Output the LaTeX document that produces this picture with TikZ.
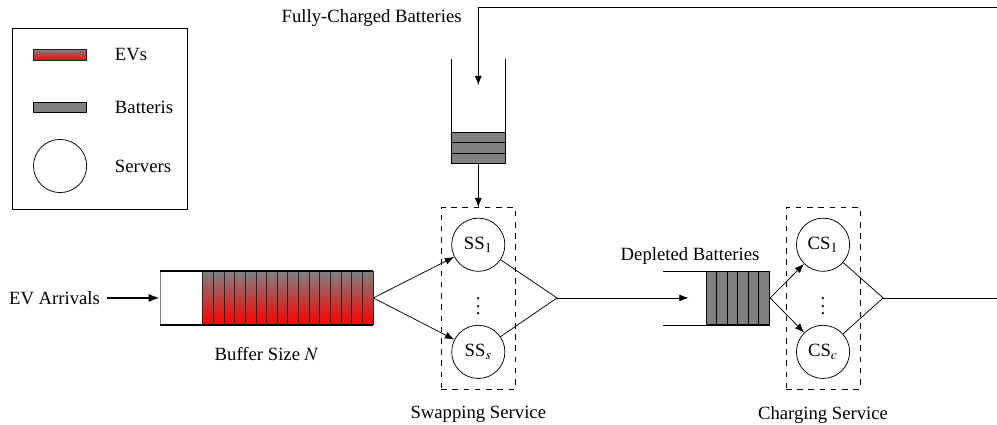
\documentclass[tikz,border=0pt]{standalone}
\usepackage{mathptmx}
\usepackage{fontspec}
\setmainfont{Liberation Serif}
\usetikzlibrary{arrows.meta, positioning, fit}

\begin{document}
\begin{tikzpicture}[
    server/.style={draw, circle, minimum size=1cm, inner sep=0pt},
    dashbox/.style={draw, dashed, inner sep=0.19cm},
    evcell/.style={draw=black!85, top color=gray, bottom color=red},
    batcell/.style={draw, fill=gray, inner sep=0pt},
    vdotsnode/.style={inner sep=0pt},
    arr/.style={-{Latex[length=5pt]}},
    evarr/.style={-{Latex[length=6pt]}, line width=1.2pt}
  ]
  \useasboundingbox (0,0) rectangle (18.74,-7.97);

  \node[draw, minimum width=3.29cm, minimum height=3.4cm, anchor=north west] (legend) at (0.23,-0.53) {};
  \node[evcell, minimum width=1cm, minimum height=0.2cm, inner sep=0pt] (legev) at (1.13,-1.03) {};
  \node[batcell, minimum width=1cm, minimum height=0.2cm] (legbat) at (1.13,-2.02) {};
  \node[server] (legsrv) at (1.13,-3.12) {};
  \node[right=0.4cm of legev] (legevtxt) {EVs};
  \node[right=0.4cm of legbat] (legbattxt) {Batteris};
  \node[right=0.4cm of legsrv] (legsrvtxt) {Servers};

  \node[draw=gray, minimum width=4cm, minimum height=1cm, inner sep=0pt] (buf) at (5.01,-5.6) {};
  \foreach \i in {0,...,15}
    \draw[evcell] (3.81+0.2*\i,-5.1) rectangle ++(0.2,-1);
  \draw[thick] (buf.north west) -- (buf.north east);
  \draw[thick] (buf.south west) -- (buf.south east);
  \coordinate[left=1cm of buf.west] (evtail);
  \draw[evarr] (evtail) -- (buf.west);
  \node[left=0pt of evtail] (evtxt) {EV Arrivals};
  \node[below=0.3cm of buf] (buftxt) {Buffer Size $N$};

  \node[server] (ss1) at (8.99,-4.6) {SS$_1$};
  \node[server, below=1cm of ss1] (sss) {SS$_s$};
  \node[vdotsnode] (ssdots) at (8.99,-5.65) {$\vdots$};
  \node[dashbox, fit=(ss1)(sss)] (swap) {};
  \node[below=0.2cm of swap] (swaptxt) {Swapping Service};
  \draw[arr] (buf.east) -- (ss1);
  \draw[arr] (buf.east) -- (sss);
  \coordinate (ssjoin) at (10.47,-5.6);
  \draw (ss1) -- (ssjoin) -- (sss);

  \node[batcell, minimum width=1cm, minimum height=0.6cm, above=0.81cm of swap] (fullq) {};
  \foreach \k in {-0.1,0.1}
    \draw ([yshift=\k cm]fullq.west) -- ([yshift=\k cm]fullq.east);
  \draw (fullq.north west) -- ++(0,1.37);
  \draw (fullq.north east) -- ++(0,1.37);
  \draw[arr] (fullq) -- (swap);
  \coordinate (fbtop) at (8.99,-0.13);
  \coordinate (fbend) at (18.74,-0.13);
  \coordinate (fbtip) at (8.99,-1.6);
  \draw[arr] (fbend) -- (fbtop) -- (fbtip);
  \node[anchor=east] (fbtxt) at (8.8,-0.34) {Fully-Charged Batteries};

  \node[batcell, minimum width=1.2cm, minimum height=1cm] (depq) at (13.87,-5.6) {};
  \foreach \i in {1,...,5}
    \draw ([xshift={0.2*\i cm}]depq.north west) -- ([xshift={0.2*\i cm}]depq.south west);
  \draw (depq.north east) -- ++(-2.01,0);
  \draw (depq.south east) -- ++(-2.01,0);
  \coordinate[left=0.32cm of depq.west] (deptip);
  \draw[arr] (ssjoin) -- (deptip);
  \node (deptxt) at (12.97,-4.81) {Depleted Batteries};

  \node[server] (cs1) at (15.47,-4.6) {CS$_1$};
  \node[server, below=1cm of cs1] (csc) {CS$_c$};
  \node[vdotsnode] (csdots) at (15.47,-5.65) {$\vdots$};
  \node[dashbox, fit=(cs1)(csc)] (charge) {};
  \node[below=0.2cm of charge] (chargetxt) {Charging Service};
  \draw[arr] (depq.east) -- (cs1);
  \draw[arr] (depq.east) -- (csc);
  \coordinate (csjoin) at (16.6,-5.6);
  \draw (cs1) -- (csjoin) -- (csc);
  \coordinate (csout) at (18.74,-5.6);
  \draw (csjoin) -- (csout);
\end{tikzpicture}
\end{document}
